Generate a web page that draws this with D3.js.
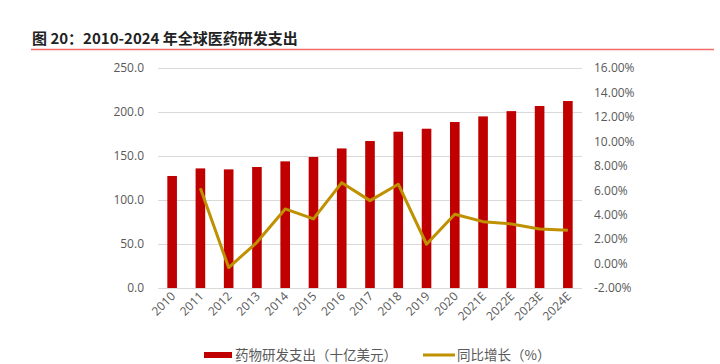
<!DOCTYPE html>
<html><head><meta charset="utf-8">
<script src="https://cdn.jsdelivr.net/npm/d3@7"></script>
<style>body{margin:0;background:#fff}svg{display:block}</style>
</head><body><svg id="c" width="720" height="364"></svg>
<script>
const categories = ["2010","2011","2012","2013","2014","2015","2016","2017","2018","2019","2020","2021E","2022E","2023E","2024E"];
const spending = [127.3,135.9,134.8,137.5,143.9,148.9,158.6,167.0,177.6,181.0,188.6,195.0,201.0,206.8,212.5];
const growth = [null,6.16,-0.33,1.74,4.47,3.65,6.62,5.15,6.49,1.58,4.03,3.43,3.24,2.83,2.72];
const leftTicks = [0,50,100,150,200,250];
const rightTicks = [-2,0,2,4,6,8,10,12,14,16];
const title = "图 20：2010-2024 年全球医药研发支出";
const legendLabels = ["药物研发支出（十亿美元）","同比增长（%）"];

const svg = d3.select("#c");
const font = "'Noto Sans CJK SC','Noto Sans',sans-serif";
const x = d3.scaleBand().domain(categories).range([158,582]).paddingInner(0.66).paddingOuter(0.33);
const yL = d3.scaleLinear().domain([0,250]).range([288,68]);
const yR = d3.scaleLinear().domain([-2,16]).range([288,68]);

// title
svg.append("text").attr("x",32).attr("y",44).attr("font-family",font).attr("font-weight",700)
  .attr("font-size",15).attr("fill","#222").text(title);
svg.append("line").attr("x1",31).attr("x2",714).attr("y1",49.5).attr("y2",49.5)
  .attr("stroke","#f26a6a").attr("stroke-width",1.5);

// grid
svg.append("g").selectAll("line").data(leftTicks).join("line")
  .attr("x1",158).attr("x2",582).attr("y1",d=>Math.round(yL(d))+0.5).attr("y2",d=>Math.round(yL(d))+0.5)
  .attr("stroke","#d9d9d9").attr("stroke-width",1);

// left axis
const gl = svg.append("g").attr("transform","translate(144,0)")
  .call(d3.axisLeft(yL).tickValues(leftTicks).tickFormat(d3.format(".1f")).tickSize(0).tickPadding(0));
gl.select(".domain").remove();
gl.selectAll("text").attr("font-family","'Open Sans',Calibri,sans-serif").attr("font-size",12).attr("fill","#595959");

// right axis
const gr = svg.append("g").attr("transform","translate(594,0)")
  .call(d3.axisRight(yR).tickValues(rightTicks).tickFormat(d=>d.toFixed(2)+"%").tickSize(0).tickPadding(0));
gr.select(".domain").remove();
gr.selectAll("text").attr("font-family","'Open Sans',Calibri,sans-serif").attr("font-size",12).attr("fill","#595959");

// bars
svg.append("g").selectAll("rect").data(spending).join("rect")
  .attr("x",(d,i)=>x(categories[i])).attr("width",x.bandwidth())
  .attr("y",d=>yL(d)).attr("height",d=>yL(0)-yL(d)).attr("fill","#c00000");

// x labels
svg.append("g").selectAll("text").data(categories).join("text")
  .attr("transform",d=>`translate(${x(d)+x.bandwidth()/2+4},${297}) rotate(-45)`)
  .attr("text-anchor","end").attr("font-family","'Open Sans',Calibri,sans-serif")
  .attr("font-size",12).attr("fill","#595959").text(d=>d);

// line
const line = d3.line().defined(d=>d!=null)
  .x((d,i)=>x(categories[i])+x.bandwidth()/2).y(d=>yR(d));
svg.append("path").datum(growth).attr("d",line).attr("fill","none")
  .attr("stroke","#bf9000").attr("stroke-width",3).attr("stroke-linejoin","round");

// legend
svg.append("rect").attr("x",204).attr("y",352).attr("width",28).attr("height",6).attr("fill","#c00000");
svg.append("text").attr("x",235).attr("y",360).attr("font-family",font).attr("font-size",13.5)
  .attr("fill","#595959").text(legendLabels[0]);
svg.append("line").attr("x1",423).attr("x2",455).attr("y1",355).attr("y2",355)
  .attr("stroke","#bf9000").attr("stroke-width",3);
svg.append("text").attr("x",457).attr("y",360).attr("font-family",font).attr("font-size",13.5)
  .attr("fill","#595959").text(legendLabels[1]);
</script></body></html>
